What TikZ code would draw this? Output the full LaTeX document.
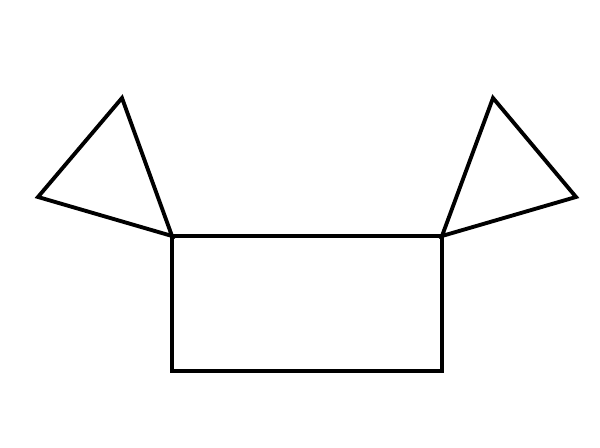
\documentclass[tikz,border=0pt]{standalone}
\usetikzlibrary{arrows.meta}

\begin{document}
\begin{tikzpicture}[x=0.02cm,y=-0.02cm]
\useasboundingbox (0,0) rectangle (600,448);
\tikzset{edge/.style={line width=2.2pt, line join=miter}}

\coordinate (A) at (172,236);
\coordinate (B) at (442,236);
\coordinate (C) at (442,371);
\coordinate (D) at (172,371);
\coordinate (L1) at (122,98);
\coordinate (L2) at (38,197);
\coordinate (R1) at (493,98);
\coordinate (R2) at (576,197);

\draw[edge] (A) -- (B) -- (C) -- (D) -- cycle;

\draw[edge] (A) -- (L1) -- (L2) -- cycle;
\draw[edge] (B) -- (R1) -- (R2) -- cycle;
\end{tikzpicture}
\end{document}
